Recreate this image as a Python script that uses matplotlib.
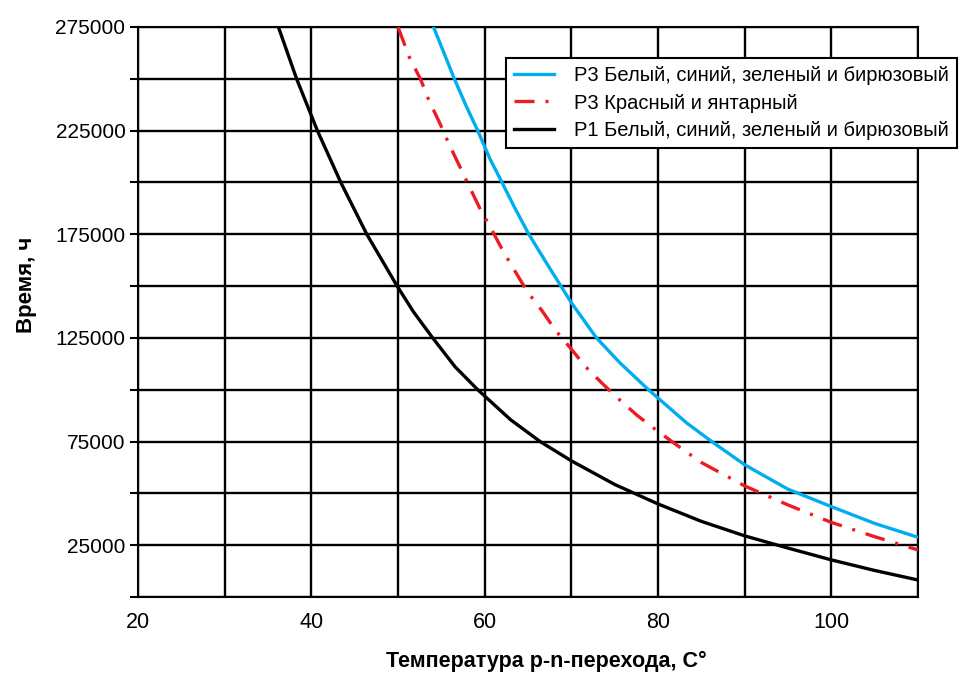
import matplotlib
matplotlib.use("Agg")
import matplotlib.pyplot as plt

# данные (тыс. часов)
x_p3_white = [54.1, 55.3, 56.5, 57.8, 59.2, 60.6, 62.0, 63.5, 65.1, 67.0, 68.8, 70.0, 72.9, 75.6,
              78.9, 83.3, 86.2, 90, 95, 100, 105, 110]
y_p3_white = [275, 262.5, 250, 237.5, 225, 211.5, 200, 187.5, 175, 162, 150, 142, 125, 113,
              100, 84, 75, 63.8, 52, 43.6, 35.5, 28.8]

x_p3_red = [50.0, 51.3, 52.6, 53.6, 54.8, 55.9, 57.1, 58.3, 59.5, 60.8, 62.2, 63.5, 64.9, 66.6,
            68.2, 69.9, 71.6, 73.6, 75.6, 77.6, 79.8, 82.0, 85, 90, 95, 100, 105, 110]
y_p3_red = [275, 260.5, 249.8, 239.3, 228.8, 218.4, 207.9, 197.4, 187, 177.3, 166.3, 157.2, 147.5, 138.2,
            128.5, 120.1, 111.3, 102.9, 95, 87.6, 80.5, 73.8, 64.9, 53.6, 44.4, 36, 29.1, 22.7]

x_p1_white = [36.2, 38.3, 40.7, 43.4, 46.4, 49.9, 51.8, 54.0, 56.6, 59.2, 63, 66.4, 70, 75,
              80, 85, 90, 95, 100, 105, 110]
y_p1_white = [275, 250, 225, 200, 175, 150, 137.5, 125, 111, 100, 85.5, 75, 65.7, 54.3,
              44.9, 36.5, 29.5, 23.6, 17.9, 12.8, 8.2]

labels = ["Р3 Белый, синий, зеленый и бирюзовый",
          "Р3 Красный и янтарный",
          "Р1 Белый, синий, зеленый и бирюзовый"]
x_ticks = [20, 40, 60, 80, 100]
y_ticks = [25000, 75000, 125000, 175000, 225000, 275000]

plt.rcParams['font.family'] = ['Liberation Sans', 'DejaVu Sans']

fig = plt.figure(figsize=(9.67, 6.75), dpi=100)
ax = fig.add_axes([138/967, 1-597/675, 780/967, 570/675])

k = 1000
ax.plot(x_p3_white, [v*k for v in y_p3_white], color="#00aeef", lw=2.4, label=labels[0], zorder=3)
red, = ax.plot(x_p3_red, [v*k for v in y_p3_red], color="#ed1c24", lw=2.4, label=labels[1], zorder=3)
red.set_dashes((6, 3.3, 0.9, 3.3))
ax.plot(x_p1_white, [v*k for v in y_p1_white], color="black", lw=2.4, label=labels[2], zorder=3)

ax.set_xlim(20, 110)
ax.set_ylim(0, 275000)
ax.set_xticks(range(20, 111, 10))
ax.set_xticklabels([str(t) if t in x_ticks else "" for t in range(20, 111, 10)], fontsize=15.5)
ax.set_yticks(range(0, 275001, 25000))
ax.set_yticklabels([str(t) if t in y_ticks else "" for t in range(0, 275001, 25000)], fontsize=15)
ax.tick_params(axis="x", length=0, pad=11)
ax.tick_params(axis="y", length=6, width=1.5, pad=3)
ax.grid(True, color="black", lw=1.7)
for s in ax.spines.values():
    s.set_linewidth(1.5)

ax.set_xlabel("Температура p-n-перехода, C°", fontsize=15.5, fontweight="bold")
ax.xaxis.set_label_coords(0.524, -0.095)
ax.set_ylabel("Время, ч", fontsize=16, fontweight="bold")
ax.yaxis.set_label_coords(-0.13, 0.547)

leg = ax.legend(loc="upper right", bbox_to_anchor=(957/967, 1-58/675), bbox_transform=fig.transFigure,
                borderaxespad=0, fontsize=14.5, fancybox=False, framealpha=1, edgecolor="black",
                handlelength=2.0, handletextpad=1.0, labelspacing=0.42, borderpad=0.4)
leg.get_frame().set_linewidth(1.5)

fig.savefig("out.png", dpi=100)
